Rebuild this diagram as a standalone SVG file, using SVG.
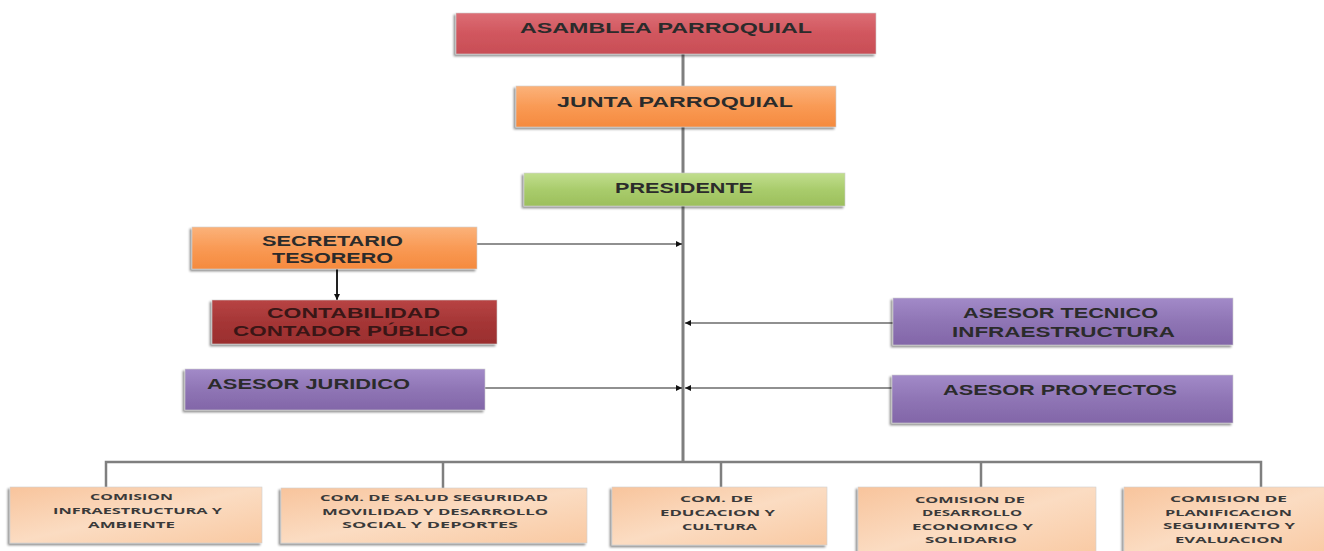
<svg xmlns="http://www.w3.org/2000/svg" width="1324" height="551" viewBox="0 0 1324 551">
<defs>
<linearGradient id="gRed" x1="0" y1="0" x2="0" y2="1"><stop offset="0" stop-color="#dc6e75"/><stop offset="0.5" stop-color="#d1565e"/><stop offset="1" stop-color="#c84e56"/></linearGradient>
<linearGradient id="gOrange" x1="0" y1="0" x2="0" y2="1"><stop offset="0" stop-color="#fbb27a"/><stop offset="0.5" stop-color="#f99a55"/><stop offset="1" stop-color="#f58a3e"/></linearGradient>
<linearGradient id="gGreen" x1="0" y1="0" x2="0" y2="1"><stop offset="0" stop-color="#c1de8e"/><stop offset="0.5" stop-color="#a9cc6c"/><stop offset="1" stop-color="#9cbf5c"/></linearGradient>
<linearGradient id="gDark" x1="0" y1="0" x2="0" y2="1"><stop offset="0" stop-color="#b84444"/><stop offset="0.5" stop-color="#a53636"/><stop offset="1" stop-color="#9a2e2e"/></linearGradient>
<linearGradient id="gPurple" x1="0" y1="0" x2="0" y2="1"><stop offset="0" stop-color="#a28ac8"/><stop offset="0.5" stop-color="#8f75b5"/><stop offset="1" stop-color="#8266a8"/></linearGradient>
<linearGradient id="gLight" x1="0" y1="0" x2="1" y2="1"><stop offset="0" stop-color="#f8c49c"/><stop offset="0.5" stop-color="#fbdcc2"/><stop offset="1" stop-color="#f9c9a2"/></linearGradient>
<filter id="sh" x="-5%" y="-20%" width="110%" height="150%"><feDropShadow dx="-2" dy="2" stdDeviation="1" flood-color="#000" flood-opacity="0.45"/></filter>
<marker id="ah" viewBox="0 0 10 10" refX="10" refY="5" markerWidth="9" markerHeight="6" orient="auto" markerUnits="userSpaceOnUse"><path d="M0,0 L10,5 L0,10 z" fill="#111"/></marker>
</defs>
<style>
.box{filter:url(#sh);stroke:#d0d0d0;stroke-width:0.6}
.t{font-family:"Liberation Sans",Arial,sans-serif;font-weight:bold;font-size:14px;fill:#2b2b2b}
.s{font-family:"Open Sans","Liberation Sans",sans-serif;font-weight:bold;font-size:9px;fill:#3a3a3a}
.trunk{stroke:#7f7f7f;stroke-width:3;fill:none}
.bar{stroke:#7f7f7f;stroke-width:2.5;fill:none}
.arr{stroke:#222;stroke-width:1.2;fill:none;marker-end:url(#ah)}
</style>
<rect width="1324" height="551" fill="#fff"/>
<g id="connectors">
<line class="trunk" x1="683" y1="54" x2="683" y2="462"/>
<polyline class="bar" points="106,489 106,462 1261,462 1261,489"/>
<line class="bar" x1="443" y1="462" x2="443" y2="489"/>
<line class="bar" x1="721" y1="462" x2="721" y2="489"/>
<line class="bar" x1="981" y1="462" x2="981" y2="489"/>
<line class="arr" x1="477" y1="244" x2="682" y2="244"/>
<line class="arr" x1="337" y1="269" x2="337" y2="300" style="stroke-width:2"/>
<line class="arr" x1="893" y1="323" x2="685" y2="323"/>
<line class="arr" x1="485" y1="388" x2="682" y2="388"/>
<line class="arr" x1="892" y1="388" x2="685" y2="388"/>
</g>
<g id="asamblea"><rect class="box" x="456" y="13" width="420" height="41" fill="url(#gRed)"/><text class="t" x="520" y="33" textLength="292" lengthAdjust="spacingAndGlyphs">ASAMBLEA PARROQUIAL</text></g>
<g id="junta"><rect class="box" x="516" y="86" width="320" height="41" fill="url(#gOrange)"/><text class="t" x="557" y="107" textLength="236" lengthAdjust="spacingAndGlyphs">JUNTA PARROQUIAL</text></g>
<g id="presidente"><rect class="box" x="524" y="173" width="321" height="33" fill="url(#gGreen)"/><text class="t" x="615" y="193" textLength="138" lengthAdjust="spacingAndGlyphs">PRESIDENTE</text></g>
<g id="secretario"><rect class="box" x="192" y="227" width="285" height="42" fill="url(#gOrange)"/><text class="t" x="262" y="246" textLength="141" lengthAdjust="spacingAndGlyphs">SECRETARIO</text><text class="t" x="272" y="263" textLength="121" lengthAdjust="spacingAndGlyphs">TESORERO</text></g>
<g id="contabilidad"><rect class="box" x="212" y="300" width="285" height="44" fill="url(#gDark)"/><text class="t" x="267" y="318" textLength="173" lengthAdjust="spacingAndGlyphs" style="fill:#3a1616">CONTABILIDAD</text><text class="t" x="233" y="336" textLength="235" lengthAdjust="spacingAndGlyphs" style="fill:#3a1616">CONTADOR PÚBLICO</text></g>
<g id="asesor-tecnico"><rect class="box" x="893" y="298" width="340" height="47" fill="url(#gPurple)"/><text class="t" x="963" y="318" textLength="195" lengthAdjust="spacingAndGlyphs">ASESOR TECNICO</text><text class="t" x="952" y="337" textLength="223" lengthAdjust="spacingAndGlyphs">INFRAESTRUCTURA</text></g>
<g id="asesor-juridico"><rect class="box" x="185" y="369" width="300" height="41" fill="url(#gPurple)"/><text class="t" x="207" y="389" textLength="203" lengthAdjust="spacingAndGlyphs">ASESOR JURIDICO</text></g>
<g id="asesor-proyectos"><rect class="box" x="892" y="375" width="341" height="48" fill="url(#gPurple)"/><text class="t" x="943" y="395" textLength="234" lengthAdjust="spacingAndGlyphs">ASESOR PROYECTOS</text></g>
<g id="com1"><rect class="box" x="10" y="487" width="252" height="56" fill="url(#gLight)"/><text class="s" x="90" y="500" textLength="83" lengthAdjust="spacingAndGlyphs">COMISION</text><text class="s" x="53" y="514" textLength="169" lengthAdjust="spacingAndGlyphs">INFRAESTRUCTURA Y</text><text class="s" x="88" y="528" textLength="87" lengthAdjust="spacingAndGlyphs">AMBIENTE</text></g>
<g id="com2"><rect class="box" x="281" y="488" width="306" height="55" fill="url(#gLight)"/><text class="s" x="320" y="501" textLength="228" lengthAdjust="spacingAndGlyphs">COM. DE SALUD SEGURIDAD</text><text class="s" x="322" y="515" textLength="226" lengthAdjust="spacingAndGlyphs">MOVILIDAD Y DESARROLLO</text><text class="s" x="342" y="528" textLength="176" lengthAdjust="spacingAndGlyphs">SOCIAL Y DEPORTES</text></g>
<g id="com3"><rect class="box" x="612" y="487" width="215" height="58" fill="url(#gLight)"/><text class="s" x="680" y="502" textLength="73" lengthAdjust="spacingAndGlyphs">COM. DE</text><text class="s" x="660" y="516" textLength="115" lengthAdjust="spacingAndGlyphs">EDUCACION Y</text><text class="s" x="682" y="530" textLength="75" lengthAdjust="spacingAndGlyphs">CULTURA</text></g>
<g id="com4"><rect class="box" x="858" y="487" width="238" height="70" fill="url(#gLight)"/><text class="s" x="915" y="503" textLength="110" lengthAdjust="spacingAndGlyphs">COMISION DE</text><text class="s" x="922" y="516" textLength="100" lengthAdjust="spacingAndGlyphs">DESARROLLO</text><text class="s" x="912" y="530" textLength="121" lengthAdjust="spacingAndGlyphs">ECONOMICO Y</text><text class="s" x="925" y="543" textLength="92" lengthAdjust="spacingAndGlyphs">SOLIDARIO</text></g>
<g id="com5"><rect class="box" x="1124" y="487" width="206" height="70" fill="url(#gLight)"/><text class="s" x="1170" y="502" textLength="117" lengthAdjust="spacingAndGlyphs">COMISION DE</text><text class="s" x="1165" y="516" textLength="127" lengthAdjust="spacingAndGlyphs">PLANIFICACION</text><text class="s" x="1163" y="529" textLength="132" lengthAdjust="spacingAndGlyphs">SEGUIMIENTO Y</text><text class="s" x="1175" y="543" textLength="108" lengthAdjust="spacingAndGlyphs">EVALUACION</text></g>
</svg>
